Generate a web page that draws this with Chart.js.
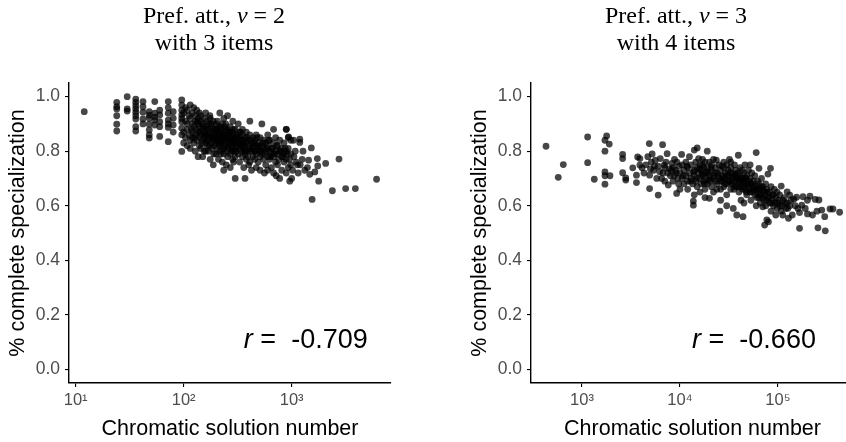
<!DOCTYPE html>
<html>
<head>
<meta charset="utf-8">
<script src="https://cdn.jsdelivr.net/npm/chart.js@4.4.1/dist/chart.umd.min.js"></script>
<style>
  body { margin: 0; width: 846px; height: 442px; overflow: hidden; background: #fff; position: relative; }
  .panel { position: absolute; top: 0; height: 442px; }
  .title { position: absolute; top: 2px; width: 300px; text-align: center; color: #000;
           font: 24px/26.7px "Liberation Serif", "Times New Roman", serif; }
</style>
</head>
<body>
<div class="panel" style="left:0;width:423px"><canvas id="left" width="423" height="442"></canvas></div>
<div class="panel" style="left:423px;width:440px"><canvas id="right" width="440" height="442"></canvas></div>
<div class="title" style="left:64px">Pref. att., <i>v</i> = 2<br>with 3 items</div>
<div class="title" style="left:526px">Pref. att., <i>v</i> = 3<br>with 4 items</div>
<script>
// values: [chromatic solution number, % complete specialization]
const leftPoints = [
  [12,.945],
  [24,.979],[24,.963],[24,.955],[24,.899],[24,.874],[24,.93],
  [30,1.0],[30,.955],[30,.947],
  [36,.991],[36,.979],[36,.967],[36,.955],[36,.943],[36,.930],[36,.918],[36,.890],[36,.874],
  [42,.982],[42,.963],[42,.943],[42,.918],[42,.90],
  [48,.945],[48,.921],[48,.899],[48,.878],[48,.848],[48,.932],[48,.86],
  [54,.982],[54,.939],[54,.914],[54,.896],[54,.925],
  [60,.933],[60,.908],[60,.854],[60,.95],[60,.89],
  [72,.982],[72,.939],[72,.914],[72,.887],[72,.835],[72,.96],[72,.90],
  [80,.945],[80,.921],[80,.896],[80,.87],
  [96,.988],[96,.969],[96,.933],[96,.908],[96,.884],[96,.860],[96,.799],[96,.95],[96,.92],
  [100,.94],[100,.87],[100,.83],[104,.96],[104,.91],[104,.85],
  [108,.95],[108,.90],[108,.88],[108,.82],[112,.93],[112,.86],
  [115,.97],[115,.92],[115,.84],[115,.81],[120,.94],[120,.90],[120,.87],[120,.85],
  [124,.96],[124,.89],[124,.83],[128,.93],[128,.91],[128,.86],[128,.80],
  [132,.95],[132,.88],[132,.84],[136,.92],[136,.90],[136,.87],[136,.78],
  [140,.94],[140,.89],[140,.85],[140,.82],[144,.91],[144,.93],[144,.86],[144,.81],
  [150,.90],[150,.88],[150,.84],[150,.78],[155,.92],[155,.87],[155,.85],[155,.80],
  [160,.94],[160,.89],[160,.86],[160,.83],[165,.91],[165,.88],[165,.82],
  [170,.90],[170,.86],[170,.84],[170,.80],[176,.92],[176,.87],[176,.85],[176,.77],
  [182,.89],[182,.86],[182,.83],[182,.81],[188,.91],[188,.88],[188,.84],[188,.75],
  [192,.87],[192,.85],[192,.82],[198,.90],[198,.86],[198,.83],[198,.79],
  [204,.88],[204,.85],[204,.81],[210,.89],[210,.86],[210,.84],[210,.77],
  [216,.94],[216,.87],[216,.82],[216,.80],[222,.88],[222,.85],[222,.83],
  [228,.90],[228,.86],[228,.81],[228,.76],[235,.92],[235,.87],[235,.84],[235,.79],[235,.73],
  [240,.89],[240,.85],[240,.82],[248,.86],[248,.83],[248,.80],[248,.75],
  [255,.93],[255,.88],[255,.84],[255,.78],[262,.87],[262,.85],[262,.81],
  [270,.89],[270,.86],[270,.83],[270,.79],[270,.74],[278,.85],[278,.82],[278,.80],
  [285,.91],[285,.87],[285,.84],[285,.77],[292,.86],[292,.83],[292,.80],
  [300,.88],[300,.85],[300,.81],[300,.78],[300,.70],
  [310,.84],[310,.82],[310,.86],[320,.90],[320,.83],[320,.79],
  [330,.87],[330,.85],[330,.81],[330,.76],[340,.84],[340,.80],[340,.82],
  [350,.88],[350,.86],[350,.78],[360,.83],[360,.81],[360,.74],
  [370,.85],[370,.82],[370,.79],[370,.70],[380,.87],[380,.80],[380,.77],
  [395,.84],[395,.82],[395,.78],[410,.91],[410,.86],[410,.81],[410,.76],
  [425,.83],[425,.80],[425,.73],[440,.85],[440,.82],[440,.78],
  [455,.84],[455,.80],[455,.77],[470,.86],[470,.82],[470,.79],[470,.74],
  [490,.83],[490,.81],[490,.76],[510,.85],[510,.80],[510,.78],[510,.73],
  [530,.90],[530,.82],[530,.79],[550,.84],[550,.81],[550,.77],
  [575,.83],[575,.80],[575,.75],[600,.86],[600,.82],[600,.78],[600,.73],
  [625,.84],[625,.80],[625,.77],[650,.81],[650,.79],[650,.74],
  [680,.88],[680,.83],[680,.78],[680,.72],[710,.85],[710,.80],[710,.76],
  [740,.82],[740,.79],[740,.75],[775,.84],[775,.80],[775,.70],
  [810,.81],[810,.78],[810,.73],[850,.83],[850,.79],[850,.76],
  [890,.88],[890,.80],[890,.77],[890,.72],[930,.85],[930,.81],[930,.74],
  [980,.84],[980,.79],[980,.75],[893,.880],[937,.852],[1040,.84],
  [1000,.70],[960,.69],[1130,.75],[1189,.844],[1189,.832],[1274,.80],[1323,.73],
  [1435,.767],[1472,.715],[1521,.812],[1547,.623],[1638,.724],[1729,.773],[1745,.746],
  [1780,.69],[2065,.755],[2383,.655],[2743,.771],[3162,.663],[3890,.663],[6117,.697],
  [1050,.78],[1100,.76],[1250,.77],[1400,.74],[1150,.72],[1080,.80],[1200,.75],
  [118,.88],[126,.85],[134,.91],[142,.87],[147,.83],[152,.89],[158,.86],[163,.84],
  [168,.88],[173,.82],[179,.90],[185,.85],[190,.79],[195,.88],[201,.84],[207,.87],
  [213,.83],[219,.89],[225,.84],[231,.86],[238,.81],[244,.88],[251,.85],[258,.82],
  [266,.87],[274,.84],[282,.81],[289,.88],[296,.83],[305,.80],[315,.85],[325,.83],
  [335,.87],[345,.82],[355,.84],[365,.80],[376,.83],[388,.85],[402,.80],[418,.84],
  [432,.81],[448,.83],[462,.80],[480,.85],[500,.82],[520,.80],[540,.83],[562,.79],
  [588,.81],[612,.84],[638,.78],[665,.81],[695,.79],[725,.82],[760,.77],[795,.80],
  [830,.78],[870,.81],[910,.79],[955,.77],[175,.93],[205,.91],[245,.90],[160,.80],
  [220,.79],[290,.76],[400,.75],[560,.72],[720,.71],[1020,.73]
];

const rightPoints = [
  [430,.818],[573,.704],[645,.751],[1143,.852],[1143,.758],[1336,.697],[1717,.840],
  [1717,.80],[1717,.724],[1717,.71],[1717,.679],[1786,.856],[1900,.826],[1932,.71],
  [2600,.788],[2600,.773],[2600,.721],[2800,.702],[2800,.694],[3300,.739],[3700,.779],
  [3600,.712],[3600,.685],[3900,.749],[4100,.739],[4300,.72],[3900,.773],
  [4500,.75],[4700,.78],[4865,.828],[4900,.712],[4900,.663],[5100,.76],[5200,.79],
  [5400,.73],[5600,.767],[5800,.70],[6000,.745],[6000,.639],[6300,.773],[6650,.824],
  [6700,.72],[6900,.749],[7000,.69],[7200,.76],[7400,.791],[7600,.676],[7800,.735],
  [8000,.71],[8300,.755],[8500,.69],[8800,.77],[9000,.73],[9250,.645],[9500,.70],
  [9800,.745],[10000,.72],[5000,.735],[5500,.745],[6200,.725],[6500,.70],[7000,.74],
  [7500,.72],[8200,.73],[8700,.71],[9300,.76],[9700,.68],[10000,.66],[10400,.788],
  [10500,.75],[10500,.70],[11000,.73],[11000,.68],[11500,.76],[11500,.71],[12000,.74],
  [12000,.69],[12000,.66],[12500,.78],[12500,.72],[13000,.75],[13000,.70],[13700,.617],
  [13700,.602],[13500,.68],[14000,.804],[14000,.73],[14000,.71],[14500,.76],[14500,.69],
  [15000,.812],[15000,.74],[15000,.67],[15500,.773],[15500,.72],[16000,.75],[16000,.70],
  [16000,.65],[16500,.73],[16500,.68],[17000,.77],[17000,.71],[17500,.74],[17500,.69],
  [18000,.76],[18000,.72],[18000,.66],[18500,.70],[19000,.80],[19000,.74],[19000,.68],
  [19500,.72],[20000,.76],[20000,.71],[20000,.627],[20500,.69],[21000,.75],[21000,.73],
  [21000,.67],[22000,.77],[22000,.71],[22000,.65],[23000,.74],[23000,.69],[23500,.767],
  [24000,.72],[24000,.68],[25000,.75],[25000,.70],[25600,.58],[26000,.73],[26000,.66],
  [27000,.71],[27000,.69],[28000,.76],[28000,.74],[28000,.67],[29000,.72],[29000,.70],
  [30000,.75],[30000,.68],[30000,.64],
  [31000,.73],[31000,.71],[32000,.77],[32000,.69],[33000,.74],[33000,.66],[34000,.72],
  [34000,.70],[35000,.590],[35000,.68],[36000,.75],[36000,.71],[37000,.73],[37000,.67],
  [38000,.566],[38000,.70],[39400,.785],[39000,.72],[40000,.69],[40000,.65],[41000,.74],
  [41000,.71],[42000,.68],[42000,.62],[43000,.73],[43000,.70],[44000,.67],[44000,.56],
  [45000,.72],[45000,.69],[46000,.75],[46000,.66],[47000,.70],[47000,.68],[48000,.64],
  [48000,.71],[50000,.73],[50000,.69],[50000,.67],[52000,.70],[52000,.65],[53000,.62],
  [54000,.72],[54000,.68],[56000,.66],[56000,.69],[58000,.71],[58000,.64],[60000,.795],
  [60000,.67],[60000,.60],[62000,.69],[62000,.65],[64000,.737],[64000,.68],[64000,.63],
  [66000,.66],[66000,.61],[68000,.70],[68000,.64],[70000,.67],[70000,.596],[72000,.65],
  [72000,.62],[73100,.529],[75000,.68],[75000,.60],[77000,.66],[77000,.548],[79000,.63],
  [79000,.716],[80000,.541],[82000,.65],[82000,.61],[84000,.737],[85000,.67],[85000,.58],
  [88000,.64],[88000,.62],[90000,.60],[92000,.66],[95000,.63],[95000,.566],[98000,.65],
  [98000,.59],[100000,.61],
  [104000,.64],[104000,.60],[108000,.672],[108000,.58],[112000,.62],[112000,.566],
  [116000,.63],[120000,.59],[124000,.651],[124000,.61],[128000,.554],[132000,.639],
  [132000,.60],[136000,.62],[140000,.566],[145000,.624],[150000,.60],[155000,.631],
  [160000,.59],[166000,.517],[166000,.575],[175000,.602],[180000,.633],[190000,.59],
  [200000,.62],[212000,.635],[225000,.566],[240000,.623],[256000,.519],[262000,.621],
  [280000,.584],[304000,.508],[340000,.588],[364000,.588],[426000,.576],[300000,.56],
  [250000,.58],[200000,.57],
  [8500,.74],[9200,.72],[10800,.71],[11800,.745],[12800,.69],[13800,.725],[14800,.70],
  [15800,.735],[16800,.715],[17800,.68],[18800,.725],[19800,.695],[20800,.74],[21800,.70],
  [22800,.72],[23800,.66],[24800,.71],[25800,.69],[26800,.745],[27800,.70],[28800,.68],
  [29800,.71],[31500,.69],[32500,.72],[33500,.68],[34500,.705],[35500,.66],[36500,.69],
  [37500,.715],[38500,.67],[39500,.695],[40500,.67],[41500,.70],[43500,.66],[44500,.685],
  [46500,.70],[47500,.65],[49000,.68],[51000,.66],[53000,.68],[55000,.65],[57000,.67],
  [59000,.66],[61000,.63],[63000,.66],[65000,.64],[67000,.67],[69000,.63],[71000,.66],
  [74000,.64],[76000,.62],[78000,.65],[81000,.63],[86000,.61],[90000,.64],[94000,.61],
  [102000,.62],[110000,.60],[118000,.61],[126000,.59],[14000,.64],[18000,.63],[26000,.62],
  [30000,.60],[45000,.61],[52000,.75],[33000,.76],[17000,.75]
];

const yTicks = [0, 0.2, 0.4, 0.6, 0.8, 1.0];
const leftXTicks = [10, 100, 1000];
const rightXTicks = [1000, 10000, 100000];
const leftR = "-0.709";
const rightR = "-0.660";

const sans = '"Liberation Sans", Arial, Helvetica, sans-serif';
const sup = { 1: "\u00B9", 2: "\u00B2", 3: "\u00B3", 4: "\u2074", 5: "\u2075" };

// r = ... annotation, drawn at a data position
const rLabel = {
  id: "rLabel",
  afterDatasetsDraw(chart, args, opts) {
    const { ctx, scales: { x, y } } = chart;
    const px = x.getPixelForValue(opts.x);
    const py = y.getPixelForValue(opts.y);
    const rest = " =  " + opts.text;
    ctx.save();
    ctx.fillStyle = "#000";
    ctx.textBaseline = "alphabetic";
    ctx.textAlign = "right";
    ctx.font = "27px " + sans;
    ctx.fillText(rest, px, py);
    const w = ctx.measureText(rest).width;
    ctx.font = "italic 27px " + sans;
    ctx.fillText("r", px - w, py);
    ctx.restore();
  },
};

function makeChart(id, points, xMin, xMax, xTicks, rText, rX, padLeft, padRight) {
  return new Chart(document.getElementById(id), {
    type: "scatter",
    data: {
      datasets: [{
        data: points.map((p) => ({ x: p[0], y: p[1] })),
        backgroundColor: "rgba(0,0,0,0.72)",
        pointRadius: 3.4,
        pointHoverRadius: 3.4,
        pointBorderWidth: 0,
      }],
    },
    options: {
      responsive: false,
      animation: false,
      events: [],
      layout: { padding: { top: 83, left: padLeft, right: padRight, bottom: 0 } },
      plugins: {
        legend: { display: false },
        tooltip: { enabled: false },
        rLabel: { text: rText, x: rX, y: 0.079 },
      },
      scales: {
        x: {
          type: "logarithmic",
          min: xMin,
          max: xMax,
          afterBuildTicks: (s) => { s.ticks = xTicks.map((v) => ({ value: v })); },
          afterFit: (s) => { s.height = 59; },
          ticks: {
            callback: (v) => "10" + sup[Math.round(Math.log10(v))],
            color: "#4d4d4d",
            font: { family: sans, size: 16.5 },
            padding: 4,
            autoSkip: false,
            maxRotation: 0,
          },
          grid: { drawOnChartArea: false, drawTicks: true, tickLength: 4, color: "#000", lineWidth: 1.1 },
          border: { display: true, color: "#000", width: 1.4 },
          title: {
            display: true,
            text: "Chromatic solution number",
            color: "#000",
            font: { family: sans, size: 21.5, lineHeight: 1 },
            padding: { top: 0, bottom: 2 },
          },
        },
        y: {
          min: -0.05,
          max: 1.05,
          afterBuildTicks: (s) => { s.ticks = yTicks.map((v) => ({ value: v })); },
          afterFit: (s) => { s.width = 69; },
          ticks: {
            callback: (v) => v.toFixed(1),
            color: "#4d4d4d",
            font: { family: sans, size: 17.5 },
            padding: 5,
          },
          grid: { drawOnChartArea: false, drawTicks: true, tickLength: 4, color: "#000", lineWidth: 1.1 },
          border: { display: true, color: "#000", width: 1.4 },
          title: {
            display: true,
            text: "% complete specialization",
            color: "#000",
            font: { family: sans, size: 21.5, lineHeight: 1 },
            padding: { top: 7, bottom: 0 },
          },
        },
      },
    },
    plugins: [rLabel],
  });
}

makeChart("left", leftPoints, Math.pow(10, 0.938), Math.pow(10, 3.92), leftXTicks, leftR, 5060, 0, 32);
makeChart("right", rightPoints, Math.pow(10, 2.48), Math.pow(10, 5.776), rightXTicks, rightR, 244000, 39, 9);
</script>
</body>
</html>
